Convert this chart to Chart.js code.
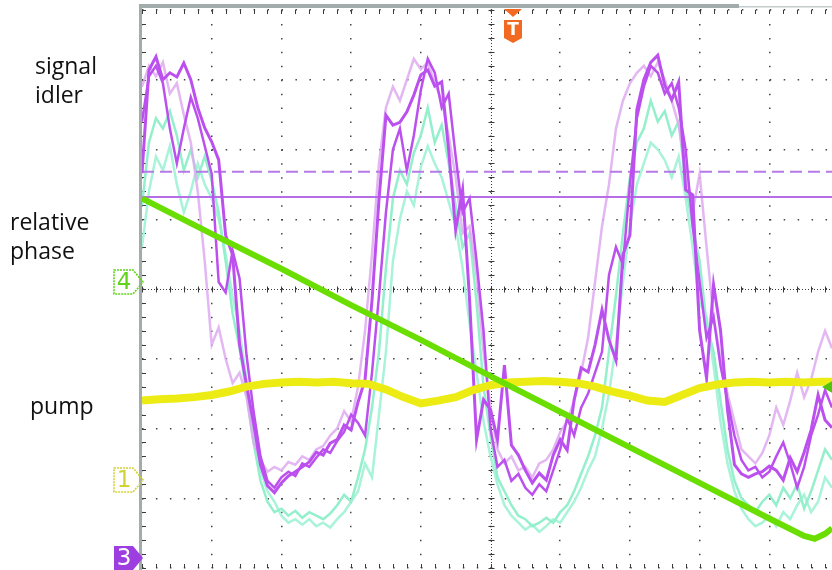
<!DOCTYPE html>
<html lang="en">
<head>
<meta charset="UTF-8" />
<title>Scope capture</title>
<script src="https://cdn.jsdelivr.net/npm/chart.js@4.4.1/dist/chart.umd.min.js"></script>
<style>
  html, body { margin: 0; padding: 0; background: #fff; overflow: hidden; }
  #wrap { position: absolute; left: 0; top: 0; width: 850px; height: 570px; }
</style>
</head>
<body>
<div id="wrap"><canvas id="scope" width="850" height="570"></canvas></div>
<script>
// sample times of the captured traces (divisions from screen centre)
const sampleT = [
  -5.0, -4.9, -4.8, -4.7, -4.6, -4.5, -4.4, -4.3, -4.2, -4.1,
  -4.0, -3.9, -3.8, -3.7, -3.6, -3.5, -3.4, -3.3, -3.2, -3.1,
  -3.0, -2.9, -2.8, -2.7, -2.6, -2.5, -2.4, -2.3, -2.2, -2.1,
  -2.0, -1.9, -1.8, -1.7, -1.6, -1.5, -1.4, -1.3, -1.2, -1.1,
  -1.0, -0.9, -0.8, -0.7, -0.6, -0.5, -0.4, -0.3, -0.2, -0.1,
  0.0, 0.1, 0.2, 0.3, 0.4, 0.5, 0.6, 0.7, 0.8, 0.9,
  1.0, 1.1, 1.2, 1.3, 1.4, 1.5, 1.6, 1.7, 1.8, 1.9,
  2.0, 2.1, 2.2, 2.3, 2.4, 2.5, 2.6, 2.7, 2.8, 2.9,
  3.0, 3.1, 3.2, 3.3, 3.4, 3.5, 3.6, 3.7, 3.8, 3.9,
  4.0, 4.1, 4.2, 4.3, 4.4, 4.5, 4.6, 4.7, 4.8, 4.9
];

// signal traces (ch3, persistence: two bright sweeps and one faded)
const signalA = [
  1.66, 3.14, 3.33, 3.00, 3.10, 3.04, 3.24, 3.00, 2.60, 2.31,
  2.11, 1.85, 0.77, 0.49, -0.80, -1.38, -1.92, -2.52, -2.82, -2.92,
  -2.78, -2.68, -2.62, -2.55, -2.48, -2.34, -2.38, -2.21, -2.16, -1.95,
  -2.02, -1.62, -1.30, -0.16, 1.28, 2.49, 2.35, 2.39, 2.54, 2.78,
  3.07, 3.14, 2.91, 2.97, 1.99, 0.85, 1.42, -0.16, -2.16, -1.59,
  -1.73, -2.16, -1.09, -2.24, -2.38, -2.60, -2.78, -2.64, -2.74, -2.38,
  -2.16, -2.31, -1.59, -1.13, -1.19, -0.80, -0.30, -0.73, -1.02, 0.49,
  0.77, 2.57, 3.00, 3.25, 3.35, 2.92, 2.71, 2.97, 1.42, 1.35,
  -0.59, -1.28, 0.06, -0.59, -1.73, -2.52, -2.65, -2.70, -2.65, -2.62,
  -2.54, -2.60, -2.74, -2.42, -2.62, -2.34, -2.02, -1.52, -1.88, -1.99
];
const signalB = [
  2.40, 3.05, 3.20, 2.95, 2.30, 1.80, 2.30, 2.75, 2.45, 2.05,
  1.65, 0.10, -0.05, 0.55, 0.15, -0.95, -1.75, -2.40, -2.75, -2.85,
  -2.70, -2.62, -2.68, -2.50, -2.55, -2.42, -2.30, -2.35, -2.18, -2.05,
  -1.80, -1.92, -2.10, -1.20, -0.10, 1.10, 2.00, 2.30, 1.70, 2.20,
  2.85, 3.30, 3.10, 2.60, 2.80, 1.90, 1.10, 1.30, 0.40, -0.60,
  -2.00, -2.55, -2.45, -2.75, -2.65, -2.85, -2.95, -2.80, -2.90, -2.60,
  -2.30, -1.85, -2.10, -1.70, -1.50, -1.20, -0.90, 0.20, 0.60, 0.35,
  1.50, 2.45, 2.90, 3.20, 3.10, 2.80, 2.95, 2.60, 2.00, 0.90,
  0.10, -0.70, -0.40, -1.10, -1.60, -2.10, -2.45, -2.60, -2.55, -2.70,
  -2.62, -2.40, -2.20, -2.50, -2.85, -2.55, -2.10, -1.80, -1.45, -1.70
];
const signalFaded = [
  2.90, 3.20, 3.05, 3.25, 2.80, 2.95, 2.50, 2.10, 1.40, 0.40,
  -0.80, -0.55, -1.00, -1.35, -1.20, -1.55, -2.20, -2.45, -2.62, -2.55,
  -2.60, -2.48, -2.52, -2.40, -2.45, -2.30, -2.25, -2.10, -2.00, -1.75,
  -1.90, -1.40, -0.60, 0.50, 1.80, 2.60, 2.90, 2.70, 3.00, 3.30,
  3.15, 3.25, 2.95, 2.70, 2.20, 1.60, 0.80, 0.90, 0.20, -0.90,
  -1.70, -2.30, -2.50, -2.40, -2.60, -2.55, -2.70, -2.50, -2.45, -2.30,
  -2.05, -1.90, -1.60, -1.20, -0.70, 0.10, 0.90, 1.50, 2.30, 2.70,
  2.95, 3.10, 3.20, 3.05, 3.25, 3.00, 2.70, 2.35, 1.70, 1.10,
  1.65, 0.60, -0.40, -1.00, -1.50, -1.90, -2.30, -2.40, -2.50, -2.35,
  -2.10, -1.70, -1.95, -1.60, -1.20, -1.55, -1.30, -0.90, -0.60, -0.85
];

// idler traces (ch2)
const idlerA = [
  1.20, 2.10, 2.45, 2.30, 2.55, 2.20, 1.70, 2.00, 1.60, 1.90,
  1.55, 1.10, 0.40, -0.35, -0.85, -1.50, -2.20, -2.75, -3.05, -3.20,
  -3.15, -3.25, -3.18, -3.28, -3.20, -3.25, -3.30, -3.22, -3.10, -2.95,
  -3.05, -2.70, -2.30, -1.70, -0.90, 0.30, 1.30, 1.70, 1.50, 1.95,
  2.20, 2.60, 2.10, 2.35, 1.80, 1.20, 0.60, 0.80, -0.20, -1.40,
  -2.10, -2.70, -2.90, -3.10, -3.25, -3.30, -3.40, -3.35, -3.28, -3.35,
  -3.20, -3.10, -2.90, -2.65, -2.40, -2.10, -1.70, -0.90, -0.10, 0.80,
  1.60, 2.10, 2.30, 2.70, 2.40, 2.55, 2.20, 2.40, 1.50, 0.90,
  0.40, -0.50, -0.90, -1.60, -2.30, -2.75, -3.00, -3.10, -3.20, -3.05,
  -2.95, -3.10, -2.85, -3.00, -2.80, -3.15, -2.90, -2.60, -2.30, -2.45
];
const idlerB = [
  0.60, 1.40, 1.90, 1.70, 2.05, 1.50, 1.10, 1.40, 1.80, 1.50,
  1.30, 1.00, 0.50, -0.10, -0.60, -1.30, -2.00, -2.60, -2.90, -3.05,
  -3.25, -3.35, -3.30, -3.38, -3.30, -3.40, -3.35, -3.42, -3.30, -3.20,
  -3.05, -2.90, -2.50, -2.70, -1.80, -0.90, 0.40, 1.00, 1.40, 1.20,
  1.75, 2.05, 1.80, 1.60, 1.25, 0.90, 0.30, -0.50, -1.20, -1.90,
  -2.40, -2.80, -3.10, -3.25, -3.35, -3.45, -3.38, -3.48, -3.40, -3.30,
  -3.35, -3.20, -3.05, -2.85, -2.60, -2.40, -2.00, -1.50, -0.80, 0.10,
  0.90, 1.50, 1.80, 2.10, 2.00, 1.85, 1.60, 1.90, 1.30, 0.60,
  -0.20, -0.40, -1.10, -1.90, -2.50, -2.90, -3.15, -3.30, -3.40, -3.35,
  -3.25, -3.40, -3.20, -3.30, -3.10, -2.95, -3.20, -3.05, -2.70, -2.85
];

// relative phase ramp (ch4)
const phaseT = [-5.0, -4.0, -3.0, -2.0, -1.0, 0.0, 1.0, 2.0, 3.0, 4.0, 4.5, 4.65, 4.8, 4.9];
const phaseV = [1.30, 0.79, 0.29, -0.23, -0.73, -1.25, -1.76, -2.27, -2.78, -3.29, -3.54, -3.58, -3.51, -3.43];

// pump (ch1)
const pumpT = [
  -5.0, -4.75, -4.5, -4.25, -4.0, -3.75, -3.5, -3.25, -3.0, -2.75,
  -2.5, -2.25, -2.0, -1.75, -1.5, -1.25, -1.0, -0.75, -0.5, -0.25,
  0.0, 0.25, 0.5, 0.75, 1.0, 1.25, 1.5, 1.75, 2.0, 2.25,
  2.5, 2.75, 3.0, 3.25, 3.5, 3.75, 4.0, 4.25, 4.5, 4.75, 5.0
];
const pumpV = [
  -1.60, -1.58, -1.57, -1.55, -1.52, -1.47, -1.40, -1.36, -1.34, -1.33,
  -1.34, -1.33, -1.35, -1.36, -1.44, -1.55, -1.64, -1.60, -1.55, -1.45,
  -1.38, -1.34, -1.33, -1.32, -1.33, -1.35, -1.40, -1.47, -1.53, -1.60,
  -1.62, -1.52, -1.42, -1.37, -1.34, -1.33, -1.34, -1.33, -1.34, -1.33, -1.33
];

// cursor levels (dashed, solid) and channel ground markers
const cursorLevels = [1.68, 1.32];
const channelTags = ['4', '1', '3'];
const channelLevels = [0.10, -2.74, -3.86];
const triggerTime = 0.32;
const triggerLevel = -1.40;

const PURPLE = '#bc50ee';
const pts = (xs, ys) => xs.map((v, i) => ({ x: v, y: ys[i] }));

const graticule = {
  id: 'graticule',
  beforeDatasetsDraw(chart) {
    const { ctx, chartArea: a, scales: { x, y } } = chart;
    const line = (x1, y1, x2, y2) => { ctx.beginPath(); ctx.moveTo(x1, y1); ctx.lineTo(x2, y2); ctx.stroke(); };
    ctx.save();
    ctx.strokeStyle = '#3a3a3a';
    ctx.lineWidth = 1;
    const cx = Math.round(x.getPixelForValue(0)) + 0.5;
    const cy = Math.round(y.getPixelForValue(0)) + 0.5;
    ctx.setLineDash([1, 2]);
    line(cx, a.top, cx, a.bottom);
    line(a.left, cy, a.right, cy);
    ctx.setLineDash([]);
    for (let i = -25; i <= 25; i++) {
      const px = Math.round(x.getPixelForValue(i / 5)) + 0.5;
      line(px, cy - 3, px, cy + 3);
      line(px, a.top, px, a.top + 4);
      line(px, a.bottom - 4, px, a.bottom);
    }
    for (let i = -20; i <= 20; i++) {
      const py = Math.round(y.getPixelForValue(i / 5)) + 0.5;
      line(cx - 3, py, cx + 3, py);
      line(a.left, py, a.left + 4, py);
    }
    ctx.restore();
  },
  afterDraw(chart) {
    const { ctx, chartArea: a, scales: { x, y } } = chart;
    ctx.save();
    // frame
    ctx.fillStyle = '#a2acac';
    ctx.fillRect(a.left - 3, a.top - 6, 600, 4);
    ctx.fillRect(a.left - 3, a.top - 3, 3, a.bottom - a.top + 6);
    ctx.fillStyle = '#c4cccc';
    ctx.fillRect(a.left + 597, a.top - 4, 300, 1.5);

    // channel labels
    ctx.fillStyle = '#111';
    ctx.font = '23px "Open Sans"';
    ctx.textAlign = 'left';
    ctx.textBaseline = 'alphabetic';
    ctx.fillText('signal', 35, 74);
    ctx.fillText('idler', 35, 103);
    ctx.fillText('relative', 10, 230);
    ctx.fillText('phase', 10, 259);
    ctx.fillText('pump', 30, 414);

    // channel ground tags
    const tagColors = ['#5fd41a', '#d2d238', '#9d3ee0'];
    channelTags.forEach((t, i) => {
      const yc = Math.round(y.getPixelForValue(channelLevels[i]));
      const xr = a.left + 1;
      ctx.beginPath();
      ctx.moveTo(xr - 29, yc - 12);
      ctx.lineTo(xr - 10, yc - 12);
      ctx.lineTo(xr, yc);
      ctx.lineTo(xr - 10, yc + 12);
      ctx.lineTo(xr - 29, yc + 12);
      ctx.closePath();
      if (i === 2) {
        ctx.fillStyle = tagColors[i];
        ctx.fill();
        ctx.fillStyle = '#fff';
      } else {
        ctx.setLineDash([2, 1]);
        ctx.strokeStyle = tagColors[i];
        ctx.lineWidth = 1.6;
        ctx.stroke();
        ctx.setLineDash([]);
        ctx.fillStyle = tagColors[i];
      }
      ctx.font = '23px "DejaVu Sans"';
      ctx.textAlign = 'center';
      ctx.textBaseline = 'middle';
      ctx.fillText(t, xr - 19, yc + 1);
    });

    // trigger position marker
    const tx = Math.round(x.getPixelForValue(triggerTime));
    ctx.fillStyle = '#f26a21';
    ctx.beginPath();
    ctx.moveTo(tx - 9, a.top - 1); ctx.lineTo(tx + 9, a.top - 1); ctx.lineTo(tx, a.top + 7);
    ctx.closePath(); ctx.fill();
    ctx.beginPath();
    ctx.moveTo(tx - 9, a.top + 10); ctx.lineTo(tx + 9, a.top + 10); ctx.lineTo(tx + 9, a.top + 28);
    ctx.lineTo(tx, a.top + 33); ctx.lineTo(tx - 9, a.top + 28);
    ctx.closePath(); ctx.fill();
    ctx.fillStyle = '#fff';
    ctx.font = 'bold 17px "DejaVu Sans"';
    ctx.fillText('T', tx, a.top + 21);

    // trigger level marker
    const ly = Math.round(y.getPixelForValue(triggerLevel));
    ctx.fillStyle = '#4fc40c';
    ctx.beginPath();
    ctx.moveTo(822, ly); ctx.lineTo(834, ly - 7); ctx.lineTo(834, ly + 7);
    ctx.closePath(); ctx.fill();
    ctx.restore();
  }
};

const trace = (data, color, width) => ({
  data, borderColor: color, borderWidth: width, pointRadius: 0, tension: 0, fill: false
});

new Chart(document.getElementById('scope'), {
  type: 'line',
  data: {
    labels: sampleT,
    datasets: [
      trace(pts(phaseT, phaseV), '#6ade00', 6),
      trace(pts(pumpT, pumpV), '#ecec14', 8),
      trace(signalA, PURPLE, 3),
      trace(signalB, PURPLE, 2.5),
      Object.assign(trace(pts([-5, 5], [cursorLevels[0], cursorLevels[0]]), '#b679e8', 2), { borderDash: [12, 6] }),
      trace(pts([-5, 5], [cursorLevels[1], cursorLevels[1]]), '#b56ee6', 2),
      trace(signalFaded, 'rgba(222, 170, 240, 0.85)', 2.5),
      trace(idlerA, '#94efcc', 2.5),
      trace(idlerB, '#a8f3da', 2.5)
    ]
  },
  options: {
    responsive: false,
    animation: false,
    devicePixelRatio: 1,
    layout: { padding: { left: 142, right: 11, top: 10, bottom: 2 } },
    plugins: { legend: { display: false }, tooltip: { enabled: false } },
    scales: {
      x: {
        type: 'linear', min: -5, max: 5,
        ticks: { display: false, stepSize: 1 },
        grid: { color: '#444', lineWidth: 1.5, drawTicks: false },
        border: { display: false, dash: [1.5, 12.44] }
      },
      y: {
        min: -4, max: 4,
        ticks: { display: false, stepSize: 1 },
        grid: { color: '#444', lineWidth: 1.5, drawTicks: false },
        border: { display: false, dash: [1.5, 12.45] }
      }
    }
  },
  plugins: [graticule]
});
</script>
</body>
</html>
